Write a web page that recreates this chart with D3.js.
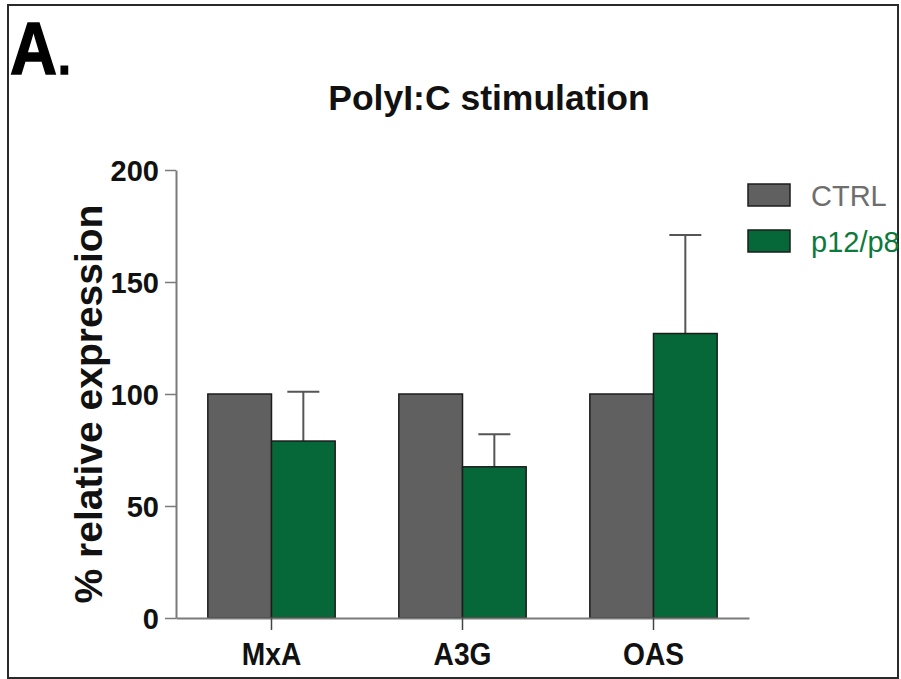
<!DOCTYPE html>
<html>
<head>
<meta charset="utf-8">
<script src="https://cdn.jsdelivr.net/npm/d3@7"></script>
<style>
  html, body { margin: 0; padding: 0; background: #fff; }
  svg { display: block; }
  text { font-family: "Liberation Sans", Arial, Helvetica, sans-serif; }
</style>
</head>
<body>
<svg id="chart" width="901" height="679"></svg>
<script>
// Genes measured
const categories = ["MxA", "A3G", "OAS"];
// Series names
const seriesNames = ["CTRL", "p12/p8"];
// Mean % relative expression per gene
const ctrlValues = [100, 100, 100];
const p12p8Values = [79, 67.5, 127];
// Upper error (SD) for p12/p8
const p12p8Errors = [22, 14.5, 44];
// Y axis ticks
const yTicks = [0, 50, 100, 150, 200];

const colors = { "CTRL": "#606060", "p12/p8": "#066838" };
const legendTextColors = { "CTRL": "#6e6e6e", "p12/p8": "#0d7a3d" };

const svg = d3.select("#chart");

// Panel frame
svg.append("rect")
  .attr("x", 8).attr("y", 5).attr("width", 890).attr("height", 673)
  .attr("fill", "none").attr("stroke", "#2a2a2a").attr("stroke-width", 2);

// Panel letter
const letter = svg.append("text")
  .attr("transform", "translate(10,74) scale(0.88,1)")
  .attr("font-weight", "bold").attr("fill", "#000")
  .attr("stroke", "#000").attr("stroke-width", 1.5);
letter.append("tspan").attr("font-size", 74).text("A");
letter.append("tspan").attr("font-size", 52).attr("dx", 1).text(".");

// Title
svg.append("text")
  .attr("x", 489).attr("y", 110)
  .attr("text-anchor", "middle")
  .attr("font-size", 35.5).attr("font-weight", "bold").attr("fill", "#111")
  .text("PolyI:C stimulation");

const x0 = 176, x1 = 749, yTop = 170, yBottom = 618;

const x = d3.scaleBand()
  .domain(categories)
  .range([x0, x1])
  .paddingInner(1 / 3)
  .paddingOuter(1 / 6);

const xs = d3.scaleBand()
  .domain(seriesNames)
  .range([0, x.bandwidth()]);

const y = d3.scaleLinear().domain([0, 200]).range([yBottom, yTop]);

const rows = categories.map((c, i) => ({
  category: c,
  values: [
    { series: "CTRL", value: ctrlValues[i], err: 0 },
    { series: "p12/p8", value: p12p8Values[i], err: p12p8Errors[i] }
  ]
}));

// Error bars (drawn beneath bars so the stem starts at the bar top)
const errG = svg.append("g");
rows.forEach(r => {
  r.values.filter(v => v.err > 0).forEach(v => {
    const cx = x(r.category) + xs(v.series) + xs.bandwidth() / 2;
    errG.append("line")
      .attr("x1", cx).attr("x2", cx)
      .attr("y1", y(v.value)).attr("y2", y(v.value + v.err))
      .attr("stroke", "#555").attr("stroke-width", 2);
    errG.append("line")
      .attr("x1", cx - 16).attr("x2", cx + 16)
      .attr("y1", y(v.value + v.err)).attr("y2", y(v.value + v.err))
      .attr("stroke", "#555").attr("stroke-width", 2);
  });
});

// Bars
const groups = svg.append("g").selectAll("g")
  .data(rows).join("g")
  .attr("transform", d => `translate(${x(d.category)},0)`);

groups.selectAll("rect")
  .data(d => d.values).join("rect")
  .attr("x", d => xs(d.series))
  .attr("width", xs.bandwidth())
  .attr("y", d => y(d.value))
  .attr("height", d => y(0) - y(d.value))
  .attr("fill", d => colors[d.series])
  .attr("stroke", "#1c1c1c").attr("stroke-width", 1.5);

// Y axis
const yAxis = svg.append("g")
  .attr("transform", `translate(${x0},0)`)
  .call(d3.axisLeft(y).tickValues(yTicks).tickSize(11).tickSizeOuter(0).tickPadding(6));
yAxis.select(".domain").attr("stroke", "#7a7a7a").attr("stroke-width", 2);
yAxis.selectAll(".tick line").attr("stroke", "#7a7a7a").attr("stroke-width", 1.5);
yAxis.selectAll(".tick text")
  .attr("font-family", "'Liberation Sans', Arial, sans-serif")
  .attr("font-size", 29).attr("font-weight", "bold").attr("fill", "#111")
  .attr("dy", "0.36em");

// X axis
const xAxis = svg.append("g")
  .attr("transform", `translate(0,${yBottom})`)
  .call(d3.axisBottom(x).tickSize(12).tickSizeOuter(0));
xAxis.select(".domain").attr("stroke", "#7a7a7a").attr("stroke-width", 2);
xAxis.selectAll(".tick line").attr("stroke", "#444").attr("stroke-width", 1.5);
xAxis.selectAll(".tick text")
  .attr("font-family", "'Liberation Sans', Arial, sans-serif")
  .attr("font-size", 32).attr("font-weight", "bold").attr("fill", "#111")
  .attr("dy", 0)
  .attr("y", 47)
  .attr("text-anchor", "middle");
// Condensed look for the category labels
xAxis.selectAll(".tick text").each(function () {
  const txt = d3.select(this);
  const w = this.getComputedTextLength();
  txt.attr("textLength", w * 0.88).attr("lengthAdjust", "spacingAndGlyphs");
});

// Y axis title
svg.append("text")
  .attr("transform", "translate(102,404) rotate(-90)")
  .attr("text-anchor", "middle")
  .attr("font-size", 39).attr("font-weight", "bold").attr("fill", "#111")
  .text("% relative expression");

// Legend
const legend = svg.append("g").selectAll("g")
  .data(seriesNames).join("g")
  .attr("transform", (d, i) => `translate(748,${184 + i * 46})`);
legend.append("rect")
  .attr("width", 42).attr("height", 22)
  .attr("fill", d => colors[d])
  .attr("stroke", "#1c1c1c").attr("stroke-width", 1.5);
legend.append("text")
  .attr("x", 63).attr("y", 22)
  .attr("font-size", 29).attr("fill", d => legendTextColors[d])
  .text(d => d);
</script>
</body>
</html>
